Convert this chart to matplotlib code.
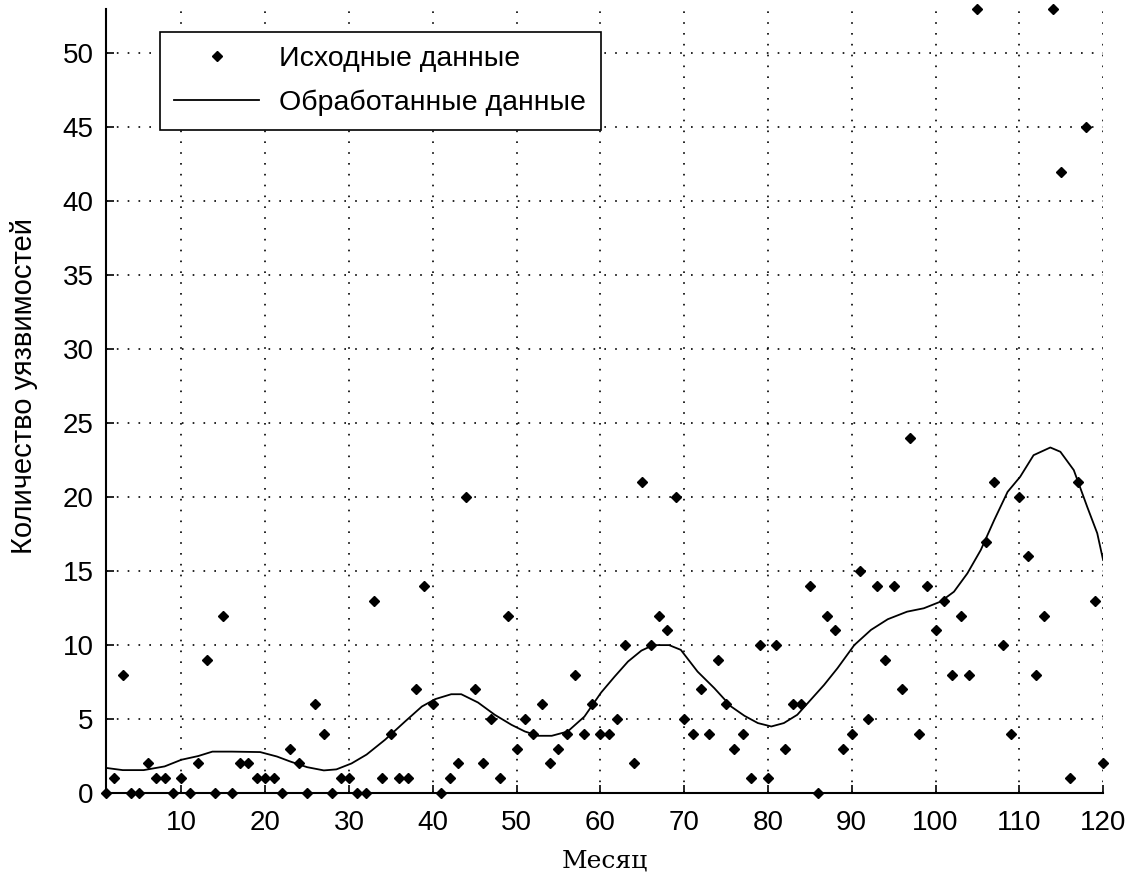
import numpy as np
import matplotlib.pyplot as plt

# исходные данные: число уязвимостей по месяцам 1..120
months = list(range(1, 121))
counts = [0, 1, 8, 0, 0, 2, 1, 1, 0, 1,
          0, 2, 9, 0, 12, 0, 2, 2, 1, 1,
          1, 0, 3, 2, 0, 6, 4, 0, 1, 1,
          0, 0, 13, 1, 4, 1, 1, 7, 14, 6,
          0, 1, 2, 20, 7, 2, 5, 1, 12, 3,
          5, 4, 6, 2, 3, 4, 8, 4, 6, 4,
          4, 5, 10, 2, 21, 10, 12, 11, 20, 5,
          4, 7, 4, 9, 6, 3, 4, 1, 10, 1,
          10, 3, 6, 6, 14, 0, 12, 11, 3, 4,
          15, 5, 14, 9, 14, 7, 24, 4, 14, 11,
          13, 8, 12, 8, 53, 17, 21, 10, 4, 20,
          16, 8, 12, 53, 42, 1, 21, 45, 13, 2]

# сглаженная кривая
smooth_x = [1, 3, 5.5, 8, 10, 12, 13.7, 16, 19.4, 21.4, 23, 25, 27, 28.5, 30.3,
            32.1, 34.3, 36.7, 38.7, 40.3, 42.2, 43.4, 45.4, 47.4, 49.4, 51, 52.6,
            54.2, 56.1, 58.1, 60.1, 61.7, 63.3, 64.9, 66.3, 68.2, 69.6, 71.6, 73.6,
            75.6, 77.2, 78.8, 80.4, 81.9, 83.5, 85.1, 86.7, 88.3, 90.3, 92.3, 94.3,
            96.6, 98.6, 100.6, 102.2, 103.8, 105.4, 107, 108.6, 110.1, 111.7, 113.7,
            114.9, 116.5, 118.1, 119.3, 120]
smooth_y = [1.7, 1.55, 1.55, 1.8, 2.25, 2.5, 2.8, 2.8, 2.77, 2.47, 2.13, 1.75, 1.53,
            1.6, 2.0, 2.6, 3.6, 4.84, 5.85, 6.35, 6.68, 6.68, 6.12, 5.29, 4.61, 4.16,
            3.87, 3.87, 4.16, 5.17, 6.8, 7.87, 8.89, 9.63, 10.0, 10.0, 9.68, 8.21,
            7.09, 5.85, 5.22, 4.73, 4.5, 4.73, 5.29, 6.3, 7.31, 8.44, 10.0, 11.03,
            11.75, 12.26, 12.49, 12.94, 13.61, 14.85, 16.43, 18.45, 20.36, 21.38,
            22.84, 23.36, 23.07, 21.83, 19.35, 17.56, 15.75]

xticks = list(range(10, 121, 10))
yticks = list(range(0, 51, 5))

plt.rcParams['font.family'] = ['Liberation Sans', 'DejaVu Sans']

fig = plt.figure(figsize=(11.37, 8.76), dpi=100)
ax = fig.add_axes([0.0932, 0.0947, 0.877, 0.895])

ax.plot(months, counts, 'D', color='black', markersize=5.5, clip_on=False,
        label='Исходные данные', zorder=3)
ax.plot(smooth_x, smooth_y, '-', color='black', linewidth=1.3,
        label='Обработанные данные', zorder=2)

ax.set_xlim(1, 120)
ax.set_ylim(0, 53)
ax.set_xticks(xticks)
ax.set_yticks(yticks)
ax.tick_params(direction='in', length=6, width=1.2, labelsize=20)
ax.tick_params(axis='x', pad=12)
ax.tick_params(axis='y', pad=9)
for s in ['top', 'right']:
    ax.spines[s].set_visible(False)
for s in ['left', 'bottom']:
    ax.spines[s].set_linewidth(1.5)

ax.grid(True, color='black', linestyle=(0, (1, 5.5)), linewidth=1.2)

ax.set_xlabel('Месяц', fontsize=18, family=['DejaVu Serif'], labelpad=10)
ax.set_ylabel('Количество уязвимостей', fontsize=21)
ax.yaxis.set_label_coords(-0.068, 0.519)

leg = ax.legend(loc='upper left', bbox_to_anchor=(0.054, 0.971), borderaxespad=0,
                fontsize=20.5, frameon=True, fancybox=False, edgecolor='black',
                framealpha=1, handlelength=3.0, borderpad=0.5, labelspacing=0.6,
                handletextpad=0.7)
leg.get_frame().set_linewidth(1.2)

fig.savefig('out.png', dpi=100)
